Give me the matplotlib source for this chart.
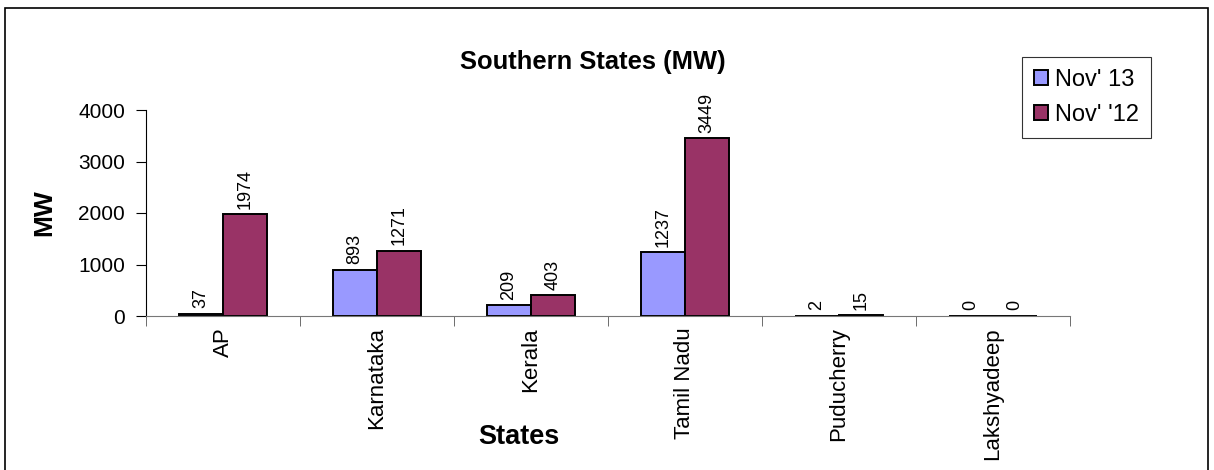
import matplotlib.pyplot as plt
import matplotlib.patches as patches
import numpy as np

plt.rcParams["font.family"] = ["Liberation Sans", "DejaVu Sans"]

states = ["AP", "Karnataka", "Kerala", "Tamil Nadu", "Puducherry", "Lakshyadeep"]
nov13 = [37, 893, 209, 1237, 2, 0]
nov12 = [1974, 1271, 403, 3449, 15, 0]
series_names = ["Nov' 13", "Nov' '12"]

c13 = "#9999FF"
c12 = "#993366"

fig = plt.figure(figsize=(12.14, 4.70), dpi=100)
ax = fig.add_axes([146 / 1214, 1 - 316 / 470, (1070 - 146) / 1214, (316 - 110) / 470])

x = np.arange(len(states))
w = 0.286
b1 = ax.bar(x - w / 2, nov13, w, color=c13, edgecolor="black", linewidth=1.4, label=series_names[0])
b2 = ax.bar(x + w / 2, nov12, w, color=c12, edgecolor="black", linewidth=1.4, label=series_names[1])

for bars in (b1, b2):
    for r in bars:
        h = r.get_height()
        ax.text(r.get_x() + r.get_width() / 2, h + 110, f"{int(h)}", rotation=90,
                ha="center", va="bottom", fontsize=13)

ax.set_xlim(-0.5, len(states) - 0.5)
ax.set_ylim(0, 4000)
ax.set_yticks([0, 1000, 2000, 3000, 4000])
ax.set_xticks(x)
ax.set_xticklabels(states, rotation=90, fontsize=16)
ax.set_xticks(np.arange(len(states) + 1) - 0.5, minor=True)
ax.tick_params(axis="x", which="major", length=0, pad=8)
ax.tick_params(axis="x", which="minor", length=7, color="#555555")
ax.tick_params(axis="y", labelsize=15, length=7, pad=8)

for s in ("top", "right"):
    ax.spines[s].set_visible(False)
ax.spines["bottom"].set_color("#777777")

fig.text(593 / 1214, 1 - 62 / 470, "Southern States (MW)", fontsize=18.4, fontweight="bold",
         ha="center", va="center")
fig.text(44 / 1214, 1 - 213 / 470, "MW", fontsize=19, fontweight="bold", rotation=90,
         ha="center", va="center")
fig.text(519 / 1214, 1 - 437 / 470, "States", fontsize=19.5, fontweight="bold",
         ha="center", va="center")

leg = fig.legend(loc="upper left", bbox_to_anchor=(1022 / 1214, 1 - 57 / 470), fontsize=17,
                 frameon=True, fancybox=False, edgecolor="black", handlelength=0.6,
                 handleheight=0.6, handletextpad=0.3, borderpad=0.5, labelspacing=0.55,
                 borderaxespad=0)
leg.get_frame().set_linewidth(0.8)

border = patches.Rectangle((5 / 1214, -0.1), 1203 / 1214, 1.1 - 8 / 470, transform=fig.transFigure,
                           fill=False, edgecolor="black", linewidth=1.2, clip_on=False)
fig.patches.append(border)

fig.savefig("out.png", dpi=100)
